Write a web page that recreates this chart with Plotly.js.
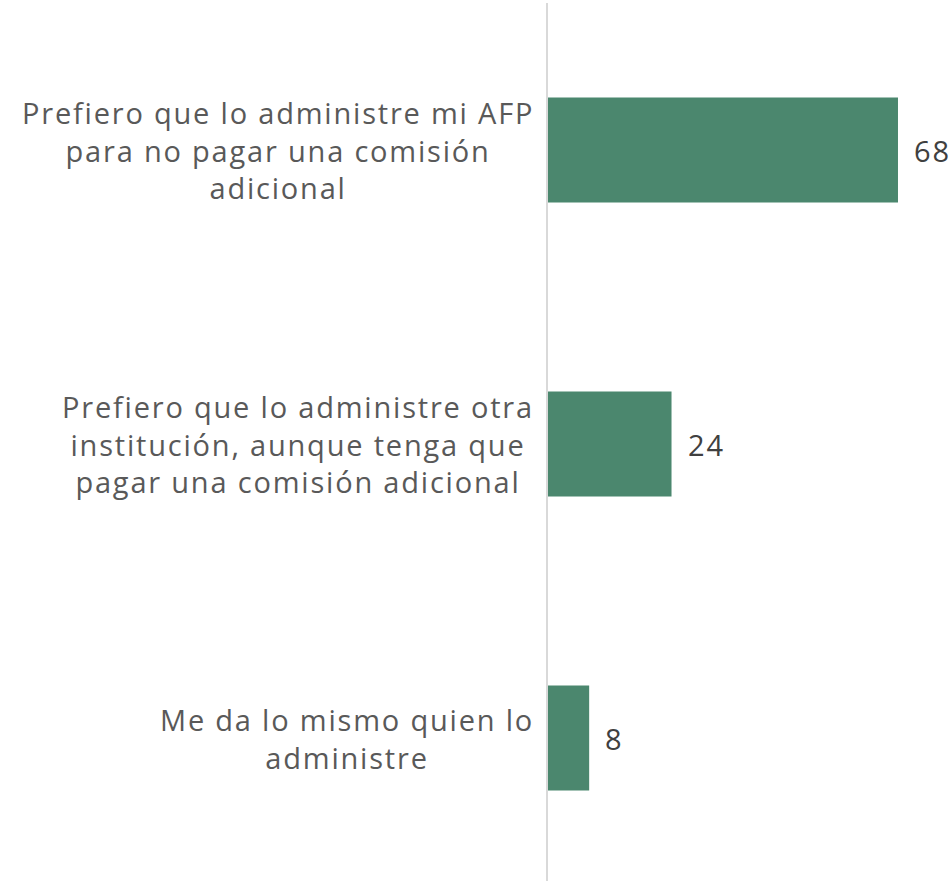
<!DOCTYPE html>
<html>
<head>
<meta charset="utf-8">
<script src="https://cdn.plot.ly/plotly-3.0.1.min.js"></script>
<style>
html,body{margin:0;padding:0;background:#fff;}
#chart{width:951px;height:881px;}
text.annotation-text{letter-spacing:1.8px;}
</style>
</head>
<body>
<div id="chart"></div>
<script>
var categories = [
  "Prefiero que lo administre mi AFP<br>para no pagar una comisión<br>adicional",
  "Prefiero que lo administre otra<br>institución, aunque tenga que<br>pagar una comisión adicional",
  "Me da lo mismo quien lo<br>administre"
];
var values = [68, 24, 8];

var idx = categories.map(function(_, i){ return i; });
var FONT = "Open Sans, sans-serif";

var trace = {
  type: 'bar',
  orientation: 'h',
  x: values,
  y: idx,
  width: 0.357,
  marker: {color: '#4B876E'},
  hoverinfo: 'skip'
};

var annotations = [];
categories.forEach(function(c, i){
  annotations.push({
    xref: 'paper', yref: 'y', x: 0, y: i, xshift: -12,
    text: c, showarrow: false, align: 'center',
    xanchor: 'right', yanchor: 'middle',
    font: {family: FONT, size: 29, color: '#595959'}
  });
  annotations.push({
    xref: 'x', yref: 'y', x: values[i], y: i,
    text: String(values[i]), showarrow: false,
    xanchor: 'left', yanchor: 'middle', xshift: 14,
    font: {family: FONT, size: 29, color: '#404040'}
  });
});

var layout = {
  width: 951, height: 881,
  margin: {l: 548, r: 0, t: 3, b: 0},
  paper_bgcolor: '#ffffff', plot_bgcolor: '#ffffff',
  showlegend: false,
  xaxis: {range: [0, 78.3], visible: false, fixedrange: true},
  yaxis: {range: [2.486, -0.5], showline: true, linecolor: '#d9d9d9', linewidth: 2,
          showticklabels: false, ticks: '', showgrid: false, zeroline: false},
  annotations: annotations
};

Plotly.newPlot('chart', [trace], layout, {displayModeBar: false, staticPlot: true});
</script>
</body>
</html>
